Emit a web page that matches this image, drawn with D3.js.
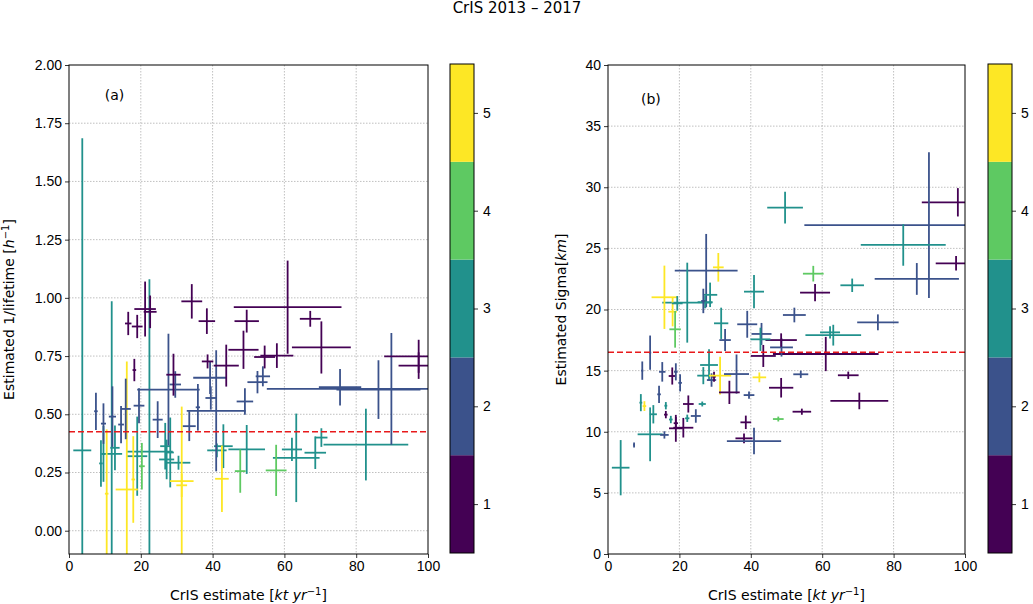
<!DOCTYPE html>
<html>
<head>
  <meta charset="utf-8">
  <title>CrIS 2013-2017</title>
  <style>
    body { margin: 0; background: white; }
    svg { font-family: "DejaVu Sans", sans-serif; }
    .tick text { font-size: 14px; fill: #000; }
    .tick line { stroke: #000; stroke-width: 0.8px; }
    .domain { display: none; }
    .grid line { stroke: #b0b0b0; stroke-width: 0.8px; stroke-dasharray: 1.5,1.5; }
    .err { fill: none; stroke-width: 1.8px; }
  </style>
</head>
<body>
  <div id="chart"></div>

  <script src="https://d3js.org/d3.v7.min.js"></script>
  <script>
    // rows: [x, xerr, y, yerr, category]
    const lifetimeRows = [
      [3.7, 2.5, 0.345, 1.34, 3],
      [11.9, 2.9, 0.33, 0.655, 3],
      [8.9, 0.5, 0.289, 0.10, 3],
      [9.6, 0.5, 0.33, 0.12, 3],
      [12.8, 1.3, 0.356, 0.096, 3],
      [19.0, 2.8, 0.32, 0.17, 3],
      [22.4, 6.5, 0.34, 0.74, 3],
      [26.8, 1.4, 0.363, 0.10, 3],
      [27.2, 2.1, 0.306, 0.085, 3],
      [28.2, 1.0, 0.336, 0.15, 3],
      [30.5, 3.3, 0.292, 0.03, 3],
      [43.0, 2.6, 0.363, 0.094, 3],
      [49.5, 5.1, 0.349, 0.105, 3],
      [41.2, 2.7, 0.345, 0.03, 3],
      [63.3, 6.5, 0.313, 0.19, 3],
      [62.1, 2.8, 0.349, 0.05, 3],
      [68.6, 3.0, 0.335, 0.07, 3],
      [70.3, 1.7, 0.40, 0.04, 3],
      [82.7, 11.8, 0.37, 0.154, 3],
      [20.3, 0.8, 0.277, 0.10, 4],
      [47.7, 1.5, 0.256, 0.093, 4],
      [57.7, 2.9, 0.259, 0.11, 4],
      [10.5, 0.5, 0.159, 0.276, 5],
      [16.1, 3.1, 0.177, 0.55, 5],
      [17.9, 0.5, 0.22, 0.186, 5],
      [31.4, 3.3, 0.213, 0.32, 5],
      [31.4, 1.5, 0.195, 0.05, 5],
      [42.6, 1.9, 0.223, 0.143, 5],
      [7.5, 0.5, 0.513, 0.08, 2],
      [9.6, 0.7, 0.46, 0.087, 2],
      [12.1, 1.0, 0.49, 0.13, 2],
      [14.5, 0.8, 0.456, 0.08, 2],
      [15.8, 1.4, 0.523, 0.13, 2],
      [19.5, 1.5, 0.537, 0.075, 2],
      [27.7, 8.7, 0.606, 0.24, 2],
      [24.7, 1.4, 0.477, 0.079, 2],
      [29.6, 1.6, 0.628, 0.057, 2],
      [41.0, 8.2, 0.515, 0.26, 2],
      [33.5, 1.8, 0.449, 0.064, 2],
      [35.9, 0.6, 0.53, 0.10, 2],
      [39.3, 4.7, 0.657, 0.07, 2],
      [39.5, 1.5, 0.57, 0.05, 2],
      [49.0, 2.3, 0.555, 0.057, 2],
      [52.5, 2.8, 0.638, 0.048, 2],
      [54.0, 2.0, 0.663, 0.043, 2],
      [75.5, 5.9, 0.616, 0.078, 2],
      [86.2, 11.7, 0.606, 0.126, 2],
      [89.8, 34.7, 0.609, 0.24, 2],
      [16.5, 0.9, 0.89, 0.05, 1],
      [19.0, 1.5, 0.877, 0.05, 1],
      [21.2, 3.0, 0.952, 0.118, 1],
      [22.6, 1.8, 0.94, 0.07, 1],
      [18.2, 0.5, 0.69, 0.048, 1],
      [34.2, 2.9, 0.985, 0.074, 1],
      [38.4, 2.3, 0.90, 0.055, 1],
      [60.9, 15.0, 0.96, 0.20, 1],
      [49.5, 3.4, 0.90, 0.049, 1],
      [67.2, 2.9, 0.91, 0.034, 1],
      [70.3, 8.2, 0.787, 0.112, 1],
      [48.6, 4.2, 0.777, 0.082, 1],
      [54.5, 2.9, 0.746, 0.049, 1],
      [57.9, 4.6, 0.752, 0.053, 1],
      [43.8, 3.5, 0.709, 0.09, 1],
      [38.6, 1.6, 0.727, 0.03, 1],
      [97.4, 9.6, 0.749, 0.071, 1],
      [97.4, 5.6, 0.709, 0.057, 1],
      [29.1, 2.0, 0.67, 0.09, 1]
    ];

    const sigmaRows = [
      [3.55, 2.47, 7.06, 2.26, 3],
      [7.3, 0.2, 8.92, 0.2, 2],
      [11.8, 3.5, 9.79, 2.2, 3],
      [15.8, 1.2, 9.74, 0.3, 2],
      [19.0, 1.9, 10.28, 1.1, 1],
      [21.1, 2.8, 10.33, 0.8, 1],
      [19.0, 0.6, 10.7, 0.5, 1],
      [17.6, 0.5, 11.0, 0.3, 3],
      [22.2, 0.6, 11.1, 0.3, 3],
      [24.6, 1.4, 11.29, 0.55, 2],
      [16.2, 0.5, 11.4, 0.3, 1],
      [12.7, 1.0, 11.43, 0.75, 3],
      [16.2, 0.4, 12.13, 0.3, 3],
      [9.2, 0.4, 12.38, 0.7, 3],
      [10.2, 0.5, 12.1, 0.4, 5],
      [22.5, 1.5, 12.27, 0.7, 1],
      [26.4, 1.0, 12.27, 0.2, 3],
      [14.3, 0.5, 13.06, 0.7, 2],
      [20.2, 0.5, 14.0, 0.7, 2],
      [18.0, 1.0, 14.56, 0.7, 1],
      [19.0, 0.5, 14.9, 0.7, 2],
      [15.2, 0.9, 14.9, 0.8, 2],
      [9.6, 0.3, 15.0, 0.75, 2],
      [11.8, 0.3, 16.47, 1.4, 2],
      [28.3, 2.5, 15.46, 1.28, 3],
      [26.7, 1.7, 14.59, 0.7, 3],
      [29.0, 1.3, 14.23, 0.55, 2],
      [29.7, 0.5, 14.5, 0.4, 1],
      [31.4, 3.1, 14.59, 1.55, 5],
      [36.0, 3.5, 14.72, 1.6, 2],
      [42.4, 1.9, 14.45, 0.4, 5],
      [34.0, 2.9, 13.22, 0.95, 1],
      [39.5, 1.5, 13.0, 0.3, 2],
      [48.5, 3.4, 13.6, 0.8, 1],
      [38.6, 1.5, 10.77, 0.55, 1],
      [38.1, 2.4, 9.46, 0.4, 1],
      [40.9, 7.6, 9.24, 1.09, 2],
      [47.7, 1.5, 11.04, 0.2, 4],
      [43.5, 3.5, 16.2, 0.9, 1],
      [61.0, 14.8, 16.36, 1.4, 1],
      [48.6, 3.2, 16.9, 0.75, 2],
      [48.5, 4.4, 17.5, 0.55, 1],
      [43.0, 2.8, 18.0, 0.9, 2],
      [42.7, 2.8, 17.56, 0.95, 3],
      [32.8, 1.6, 17.5, 0.9, 2],
      [39.0, 2.8, 18.79, 1.1, 2],
      [31.7, 2.0, 18.87, 1.28, 3],
      [40.9, 2.8, 21.46, 1.36, 3],
      [52.2, 3.2, 19.55, 0.6, 2],
      [30.9, 1.5, 23.45, 1.17, 5],
      [27.5, 8.8, 23.18, 3.0, 2],
      [22.2, 7.0, 20.56, 3.27, 3],
      [15.8, 3.6, 21.0, 2.59, 5],
      [18.1, 1.2, 19.82, 1.2, 5],
      [18.8, 1.6, 18.38, 1.5, 4],
      [19.4, 1.5, 20.5, 0.6, 3],
      [28.6, 2.0, 21.2, 1.0, 3],
      [27.2, 2.1, 20.6, 0.5, 3],
      [26.7, 0.6, 20.7, 1.0, 2],
      [49.6, 5.0, 28.33, 1.3, 3],
      [98.0, 10.1, 28.77, 1.16, 1],
      [89.9, 34.9, 26.9, 5.96, 2],
      [86.5, 11.8, 22.5, 1.3, 2],
      [82.7, 11.9, 25.28, 1.7, 3],
      [97.5, 5.7, 23.78, 0.6, 1],
      [57.5, 2.9, 22.93, 0.64, 4],
      [58.0, 4.2, 21.38, 0.7, 1],
      [68.4, 3.3, 21.98, 0.55, 3],
      [75.6, 5.8, 18.95, 0.65, 2],
      [63.1, 7.8, 17.9, 0.85, 3],
      [62.2, 2.8, 18.13, 0.5, 3],
      [67.3, 2.9, 14.62, 0.3, 1],
      [54.0, 2.1, 14.7, 0.3, 2],
      [70.4, 8.1, 12.52, 0.68, 1],
      [54.3, 2.6, 11.64, 0.25, 1]
    ];

    const categories = [1, 2, 3, 4, 5];
    const categoryColors = ["#440154", "#3b528b", "#21918c", "#5ec962", "#fde725"];
    const xTicks = [0, 20, 40, 60, 80, 100];
    const lifetimeTicks = [0, 0.25, 0.5, 0.75, 1.0, 1.25, 1.5, 1.75, 2.0];
    const sigmaTicks = [0, 5, 10, 15, 20, 25, 30, 35, 40];
    const lifetimeMean = 0.425;
    const sigmaMean = 16.5;

    const svg = d3.select("#chart").append("svg")
      .attr("width", 1033)
      .attr("height", 604);

    const color = d3.scaleOrdinal().domain(categories).range(categoryColors);

    svg.append("text")
      .attr("x", 517).attr("y", 13)
      .attr("text-anchor", "middle")
      .style("font-size", "15px")
      .text("CrIS 2013 \u2013 2017");

    function drawPanel(opts) {
      const g = svg.append("g");
      const x = d3.scaleLinear().domain([0, 100]).range([opts.left, opts.right]);
      const y = d3.scaleLinear().domain(opts.yDomain).range([opts.bottom, opts.top]);

      // grid
      const grid = g.append("g").attr("class", "grid");
      grid.selectAll(".gx").data(xTicks.slice(1, -1)).enter().append("line")
        .attr("x1", d => x(d)).attr("x2", d => x(d))
        .attr("y1", opts.top).attr("y2", opts.bottom);
      grid.selectAll(".gy").data(opts.yTicks.filter(t => t > opts.yDomain[0] && t < opts.yDomain[1])).enter().append("line")
        .attr("x1", opts.left).attr("x2", opts.right)
        .attr("y1", d => y(d)).attr("y2", d => y(d));

      const clipId = "clip-" + opts.name;
      svg.append("clipPath").attr("id", clipId).append("rect")
        .attr("x", opts.left).attr("y", opts.top)
        .attr("width", opts.right - opts.left).attr("height", opts.bottom - opts.top);

      const marks = g.append("g").attr("clip-path", "url(#" + clipId + ")");
      const bars = marks.selectAll(".err").data(opts.rows).enter().append("g")
        .attr("class", "err")
        .attr("stroke", d => color(d[4]));
      bars.append("line")
        .attr("x1", d => x(d[0] - d[1])).attr("x2", d => x(d[0] + d[1]))
        .attr("y1", d => y(d[2])).attr("y2", d => y(d[2]));
      bars.append("line")
        .attr("x1", d => x(d[0])).attr("x2", d => x(d[0]))
        .attr("y1", d => y(d[2] - d[3])).attr("y2", d => y(d[2] + d[3]));

      marks.append("line")
        .attr("x1", opts.left).attr("x2", opts.right)
        .attr("y1", y(opts.mean)).attr("y2", y(opts.mean))
        .attr("stroke", "#e8191b").attr("stroke-width", 1.6)
        .attr("stroke-dasharray", "6,3");

      // axes
      g.append("g")
        .attr("transform", "translate(0," + opts.bottom + ")")
        .call(d3.axisBottom(x).tickValues(xTicks).tickSize(4).tickPadding(3).tickFormat(d3.format("d")));
      g.append("g")
        .attr("transform", "translate(" + opts.left + ",0)")
        .call(d3.axisLeft(y).tickValues(opts.yTicks).tickSize(4).tickPadding(3).tickFormat(opts.fmt));

      g.append("rect")
        .attr("x", opts.left).attr("y", opts.top)
        .attr("width", opts.right - opts.left).attr("height", opts.bottom - opts.top)
        .attr("fill", "none").attr("stroke", "#000").attr("stroke-width", 1);

      g.append("text")
        .attr("x", x(opts.labelPos[0])).attr("y", y(opts.labelPos[1]))
        .attr("text-anchor", "middle")
        .style("font-size", "14px")
        .text(opts.tag);

      // x label
      const xl = g.append("text")
        .attr("x", (opts.left + opts.right) / 2).attr("y", 600)
        .attr("text-anchor", "middle")
        .style("font-size", "14px");
      xl.append("tspan").text("CrIS estimate [");
      xl.append("tspan").style("font-style", "italic").text("kt yr");
      xl.append("tspan").attr("dy", -5).style("font-size", "10px").text("\u22121");
      xl.append("tspan").attr("dy", 5).text("]");

      // y label
      const yl = g.append("text")
        .attr("transform", "translate(" + opts.yLabelX + "," + ((opts.top + opts.bottom) / 2) + ") rotate(-90)")
        .attr("text-anchor", "middle")
        .style("font-size", "14px");
      opts.yLabel(yl);

      // colorbar
      const cb = d3.scaleLinear().domain([0.5, 5.5]).range([opts.bottom - 1, opts.top - 1]);
      const cbg = g.append("g");
      cbg.selectAll("rect").data(categories).enter().append("rect")
        .attr("x", opts.cbLeft).attr("width", 24)
        .attr("y", d => cb(d + 0.5)).attr("height", d => cb(d - 0.5) - cb(d + 0.5))
        .attr("fill", d => color(d));
      cbg.append("rect")
        .attr("x", opts.cbLeft).attr("y", cb(5.5))
        .attr("width", 24).attr("height", cb(0.5) - cb(5.5))
        .attr("fill", "none").attr("stroke", "#000").attr("stroke-width", 1);
      cbg.append("g")
        .attr("transform", "translate(" + (opts.cbLeft + 24) + ",0)")
        .call(d3.axisRight(cb).tickValues(categories).tickSize(4).tickPadding(5).tickFormat(d3.format("d")));
    }

    drawPanel({
      name: "a", rows: lifetimeRows,
      left: 69, right: 428, top: 65, bottom: 554,
      yDomain: [-0.1, 2.0], yTicks: lifetimeTicks, fmt: d3.format(".2f"),
      mean: lifetimeMean, tag: "(a)", labelPos: [12.7, 1.85],
      cbLeft: 450, yLabelX: 14,
      yLabel: t => {
        t.append("tspan").text("Estimated 1/lifetime [");
        t.append("tspan").style("font-style", "italic").text("h");
        t.append("tspan").attr("dy", -5).style("font-size", "10px").text("\u22121");
        t.append("tspan").attr("dy", 5).text("]");
      }
    });

    drawPanel({
      name: "b", rows: sigmaRows,
      left: 608, right: 965, top: 65, bottom: 554,
      yDomain: [0, 40], yTicks: sigmaTicks, fmt: d3.format("d"),
      mean: sigmaMean, tag: "(b)", labelPos: [12.0, 36.8],
      cbLeft: 988, yLabelX: 566,
      yLabel: t => {
        t.append("tspan").text("Estimated Sigma[");
        t.append("tspan").style("font-style", "italic").text("km");
        t.append("tspan").text("]");
      }
    });
  </script>
</body>
</html>
